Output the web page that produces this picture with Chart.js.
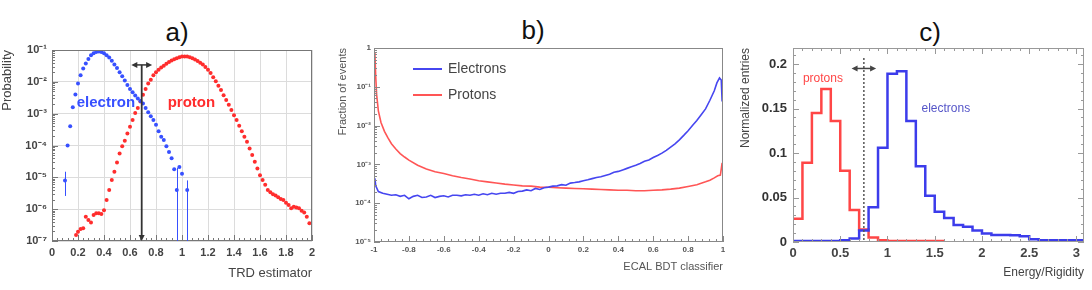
<!DOCTYPE html>
<html>
<head>
<meta charset="utf-8">
<script src="https://cdn.jsdelivr.net/npm/chart.js@4.4.1/dist/chart.umd.min.js"></script>
<style>
  body { margin:0; background:#fff; width:1092px; height:290px; overflow:hidden; position:relative;
         font-family:"Liberation Sans", Arial, sans-serif; }
  canvas { position:absolute; top:0; }
  .ttl { position:absolute; font-size:26px; color:#111; transform:translate(-50%,-50%); }
</style>
</head>
<body>
<div class="ttl" style="left:177px;top:32px">a)</div>
<div class="ttl" style="left:533px;top:30px">b)</div>
<div class="ttl" style="left:930px;top:32px">c)</div>
<canvas id="ca" width="330" height="290" style="left:0"></canvas>
<canvas id="cb" width="400" height="290" style="left:330px"></canvas>
<canvas id="cc" width="362" height="290" style="left:730px"></canvas>
<script>
// ---- a) TRD estimator ----
var elecA_x = [0.10,0.12,0.14,0.16,0.18,0.20,0.22,0.24,0.26,0.28,0.30,0.32,0.34,0.36,0.38,0.40,0.42,0.44,0.46,0.48,
  0.50,0.52,0.54,0.56,0.58,0.60,0.62,0.64,0.66,0.68,0.70,0.72,0.74,0.76,0.78,0.80,0.82,0.84,0.86,0.88,
  0.90,0.92,0.94,0.96,0.98,1.00,1.04];
var elecA_y = [7.9e-6,1.0e-4,4.0e-4,1.6e-3,4.0e-3,8.9e-3,1.6e-2,2.6e-2,3.8e-2,5.2e-2,6.8e-2,7.9e-2,8.7e-2,8.9e-2,8.7e-2,7.9e-2,6.9e-2,5.8e-2,4.6e-2,3.5e-2,
  2.7e-2,2.0e-2,1.5e-2,1.1e-2,7.9e-3,6.0e-3,4.7e-3,3.7e-3,3.0e-3,2.5e-3,2.1e-3,1.5e-3,1.1e-3,8.3e-4,6.3e-4,4.5e-4,2.8e-4,1.9e-4,1.5e-4,9.5e-5,
  6.3e-5,4.0e-5,1.8e-5,4.0e-6,2.1e-5,1.3e-5,4.0e-6];
var elecA_errX = [0.10, 0.96, 1.04];
var elecA_errLo = [2.6e-6, 1e-7, 1e-7];
var elecA_errHi = [1.5e-5, 2.0e-5, 8.0e-6];
var protA_x = [0.185,0.20,0.22,0.24,0.26,0.28,0.30,0.32,0.34,0.36,0.38,
  0.40,0.42,0.44,0.46,0.48,0.50,0.52,0.54,0.56,0.58,0.60,0.62,0.64,0.66,0.68,0.70,0.72,0.74,0.76,0.78,
  0.80,0.82,0.84,0.86,0.88,0.90,0.92,0.94,0.96,0.98,1.00,1.02,1.04,1.06,1.08,1.10,1.12,1.14,1.16,1.18,
  1.20,1.22,1.24,1.26,1.28,1.30,1.32,1.34,1.36,1.38,1.40,1.42,1.44,1.46,1.48,1.50,1.52,1.54,1.56,1.58,
  1.60,1.62,1.64,1.66,1.68,1.70,1.72,1.74,1.76,1.78,1.80,1.82,1.84,1.86,1.88,1.90,1.92,1.94,1.96,1.98];
var protA_y = [1.55e-7,1.95e-7,2.4e-7,2.5e-7,5.8e-7,4.6e-7,3.8e-7,6.6e-7,7.4e-7,7.4e-7,7.1e-7,
  9.3e-7,1.95e-6,4.0e-6,8.3e-6,1.5e-5,2.9e-5,5.6e-5,9.5e-5,1.4e-4,2.4e-4,3.9e-4,6.3e-4,1.05e-3,1.5e-3,2.4e-3,3.9e-3,6.0e-3,8.9e-3,1.17e-2,1.6e-2,
  2.0e-2,2.4e-2,2.8e-2,3.2e-2,3.7e-2,4.2e-2,4.7e-2,5.1e-2,5.5e-2,5.9e-2,6.2e-2,6.3e-2,6.2e-2,5.9e-2,5.5e-2,5.0e-2,4.5e-2,4.0e-2,3.5e-2,2.95e-2,
  2.4e-2,1.9e-2,1.4e-2,1.05e-2,7.6e-3,5.5e-3,3.8e-3,2.7e-3,1.9e-3,1.3e-3,8.9e-4,6.3e-4,4.2e-4,2.8e-4,1.9e-4,1.3e-4,8.1e-5,5.0e-5,3.1e-5,1.9e-5,
  1.17e-5,8.3e-6,5.8e-6,4.0e-6,3.4e-6,2.95e-6,2.7e-6,2.35e-6,2.1e-6,1.95e-6,1.6e-6,1.35e-6,1.07e-6,1.2e-6,1.12e-6,1.07e-6,8.9e-7,7.9e-7,5.8e-7,3.6e-7];
var ticksA_x = [0,0.2,0.4,0.6,0.8,1,1.2,1.4,1.6,1.8,2];
var ticksA_y = [1e-7,1e-6,1e-5,1e-4,1e-3,1e-2,1e-1];
var cutA = 0.69, arrowA = [0.61, 0.77, 0.034];

// ---- b) ECAL BDT classifier ----
var elecB_x = [-0.995,-0.99,-0.975,-0.95,-0.925,-0.9,-0.875,-0.85,-0.825,-0.8,-0.775,-0.75,-0.725,-0.7,-0.675,-0.65,-0.625,-0.6,-0.575,-0.55,
  -0.525,-0.5,-0.475,-0.45,-0.425,-0.4,-0.375,-0.35,-0.325,-0.3,-0.275,-0.25,-0.225,-0.2,-0.175,-0.15,-0.125,-0.1,-0.075,-0.05,
  -0.025,0,0.025,0.05,0.075,0.1,0.125,0.15,0.175,0.2,0.225,0.25,0.275,0.3,0.325,0.35,0.375,0.4,0.425,0.45,
  0.475,0.5,0.525,0.55,0.575,0.6,0.625,0.65,0.675,0.7,0.725,0.75,0.775,0.8,0.825,0.85,0.875,0.9,0.925,0.95,
  0.965,0.98,0.99,0.995];
var elecB_y = [4.4e-4,2.8e-4,2.0e-4,1.8e-4,1.7e-4,1.6e-4,1.65e-4,1.5e-4,1.6e-4,1.3e-4,1.5e-4,1.6e-4,1.4e-4,1.45e-4,1.6e-4,1.4e-4,1.5e-4,1.55e-4,1.45e-4,1.6e-4,
  1.6e-4,1.55e-4,1.65e-4,1.6e-4,1.7e-4,1.6e-4,1.75e-4,1.65e-4,1.8e-4,1.7e-4,1.8e-4,1.8e-4,1.9e-4,1.8e-4,2.0e-4,2.05e-4,2.2e-4,2.1e-4,2.4e-4,2.25e-4,
  2.5e-4,2.6e-4,2.75e-4,2.8e-4,3.0e-4,2.9e-4,3.3e-4,3.4e-4,3.55e-4,3.8e-4,4.0e-4,4.3e-4,4.6e-4,4.8e-4,5.2e-4,5.6e-4,6.3e-4,6.6e-4,7.2e-4,7.9e-4,
  8.7e-4,9.5e-4,1.05e-3,1.2e-3,1.3e-3,1.5e-3,1.7e-3,1.95e-3,2.3e-3,2.8e-3,3.4e-3,4.3e-3,5.6e-3,7.4e-3,1.0e-2,1.35e-2,1.9e-2,2.7e-2,4.5e-2,7.9e-2,
  0.126,0.17,0.15,0.042];
var protB_x = [-0.995,-0.99,-0.985,-0.975,-0.96,-0.94,-0.92,-0.9,-0.875,-0.85,-0.825,-0.8,
  -0.75,-0.7,-0.65,-0.6,-0.55,-0.5,-0.45,-0.4,-0.35,-0.3,-0.25,-0.2,-0.15,-0.1,-0.05,0,0.05,0.1,0.15,0.2,0.25,0.3,0.35,0.4,
  0.45,0.5,0.55,0.6,0.65,0.7,0.75,0.8,0.85,0.9,0.925,0.95,0.97,0.985,0.995];
var protB_y = [0.76,0.178,0.063,0.024,0.012,7.1e-3,4.8e-3,3.4e-3,2.5e-3,1.9e-3,1.55e-3,1.29e-3,
  9.5e-4,7.6e-4,6.5e-4,5.8e-4,5.1e-4,4.6e-4,4.2e-4,3.8e-4,3.55e-4,3.3e-4,3.1e-4,2.95e-4,2.8e-4,2.75e-4,2.6e-4,2.57e-4,2.5e-4,2.45e-4,2.4e-4,2.35e-4,2.3e-4,2.25e-4,2.2e-4,2.15e-4,
  2.15e-4,2.1e-4,2.1e-4,2.15e-4,2.2e-4,2.3e-4,2.45e-4,2.7e-4,3.0e-4,3.55e-4,3.9e-4,4.5e-4,5.1e-4,5.3e-4,1.1e-3];
var ticksB_x = [-1,-0.8,-0.6,-0.4,-0.2,0,0.2,0.4,0.6,0.8,1];
var ticksB_y = [1e-5,1e-4,1e-3,1e-2,1e-1,1];

// ---- c) Energy/Rigidity ----
var binLowC = [0,0.1,0.2,0.3,0.4,0.5,0.6,0.7,0.8,0.9,1.0,1.1,1.2,1.3,1.4,1.5,1.6,1.7,1.8,1.9,
  2.0,2.1,2.2,2.3,2.4,2.5,2.6,2.7,2.8,2.9,3.0];
var protC = [0.026,0.089,0.145,0.172,0.136,0.080,0.036,0.014,0.005,0.002,0.001,0.001,0.001,0.001,0.001,0.001];
var elecC = [0.001,0.001,0.001,0.001,0.001,0.002,0.004,0.013,0.039,0.106,0.189,0.192,0.136,0.085,0.052,0.034,0.027,0.019,0.017,0.013,
  0.0095,0.008,0.008,0.0075,0.0065,0.003,0.002,0.002,0.002,0.002,0.002];
var ticksC_x = [0,0.5,1,1.5,2,2.5,3];
var ticksC_y = [0,0.05,0.1,0.15,0.2];
var cutC = 0.75, arrowC = [0.62, 0.88, 0.195];

Chart.defaults.font.family = '"Liberation Sans", Arial, sans-serif';
Chart.defaults.animation = false;

var SUP = {'-':'\u207B','0':'\u2070','1':'\u00B9','2':'\u00B2','3':'\u00B3','4':'\u2074','5':'\u2075','6':'\u2076','7':'\u2077','8':'\u2078','9':'\u2079'};
function decade(v) {
  var e = Math.round(Math.log10(v));
  if (e === 0) return '1';
  return '10' + String(e).split('').map(function (c) { return SUP[c]; }).join('');
}
function fmt(v) { return String(Math.round(v * 1000) / 1000); }
function pts(xs, ys) { return xs.map(function (x, i) { return {x: x, y: ys[i]}; }); }
function hist(lows, vals) {
  var p = vals.map(function (v, i) { return {x: lows[i], y: v}; });
  p.push({x: lows[vals.length - 1] + 0.1, y: vals[vals.length - 1]});
  return p;
}
function logMinor(lo, hi) {
  var out = [];
  for (var d = lo; d < hi; d *= 10) for (var k = 2; k < 10; k++) out.push(d * k);
  return out;
}
function linMinor(lo, hi, step) {
  var out = [];
  for (var v = lo; v <= hi + 1e-9; v += step) out.push(v);
  return out;
}

// frame + inward ROOT-style tick marks
function frameTicks(opt) {
  return {
    id: 'frameTicks',
    afterDatasetsDraw: function (chart) {
      var ctx = chart.ctx, a = chart.chartArea, sx = chart.scales.x, sy = chart.scales.y;
      ctx.save();
      ctx.strokeStyle = opt.color; ctx.lineWidth = 1;
      ctx.beginPath();
      function tk(scale, vals, len) {
        vals.forEach(function (v) {
          var p = Math.round(scale.getPixelForValue(v)) + 0.5;
          if (scale.isHorizontal()) {
            if (p < a.left - 1 || p > a.right + 1) return;
            if (opt.sides.indexOf('bottom') >= 0) { ctx.moveTo(p, a.bottom); ctx.lineTo(p, a.bottom - len); }
            if (opt.sides.indexOf('top') >= 0) { ctx.moveTo(p, a.top); ctx.lineTo(p, a.top + len); }
          } else {
            if (p < a.top - 1 || p > a.bottom + 1) return;
            if (opt.sides.indexOf('left') >= 0) { ctx.moveTo(a.left, p); ctx.lineTo(a.left + len, p); }
            if (opt.sides.indexOf('right') >= 0) { ctx.moveTo(a.right, p); ctx.lineTo(a.right - len, p); }
          }
        });
      }
      tk(sx, sx.ticks.map(function (t) { return t.value; }), opt.major);
      tk(sy, sy.ticks.map(function (t) { return t.value; }), opt.major);
      tk(sx, opt.xMinor, opt.minor);
      tk(sy, opt.yMinor, opt.minor);
      ctx.stroke();
      ctx.strokeRect(a.left + 0.5, a.top + 0.5, a.right - a.left - 1, a.bottom - a.top - 1);
      ctx.restore();
    }
  };
}

function head(ctx, x, y, dx, dy, s) {
  var nx = -dy, ny = dx;
  ctx.beginPath();
  ctx.moveTo(x, y);
  ctx.lineTo(x - dx * s + nx * s * 0.5, y - dy * s + ny * s * 0.5);
  ctx.lineTo(x - dx * s - nx * s * 0.5, y - dy * s - ny * s * 0.5);
  ctx.closePath();
  ctx.fill();
}
function dblArrow(ctx, sx, sy, x0, x1, yv, col) {
  var y = sy.getPixelForValue(yv), p0 = sx.getPixelForValue(x0), p1 = sx.getPixelForValue(x1);
  ctx.strokeStyle = col; ctx.fillStyle = col; ctx.lineWidth = 1.5;
  ctx.beginPath(); ctx.moveTo(p0 + 3, y); ctx.lineTo(p1 - 3, y); ctx.stroke();
  head(ctx, p0, y, -1, 0, 6);
  head(ctx, p1, y, 1, 0, 6);
}

function axisX(min, max, ticks, title, font, tfont, color, tpad, pad, h) {
  return {
    type: 'linear', min: min, max: max,
    afterBuildTicks: function (s) { s.ticks = ticks.map(function (v) { return {value: v}; }); },
    afterFit: function (s) { s.height = h; },
    grid: {display: false, drawTicks: false},
    border: {display: false},
    ticks: {autoSkip: false, maxRotation: 0, padding: tpad, color: color, font: font, callback: fmt},
    title: {display: true, text: title, align: 'end', color: color, font: tfont, padding: {top: 0, bottom: pad}}
  };
}

// ---------- chart a ----------
var blueA = 'rgb(55,80,255)', redA = 'rgb(255,45,45)';
var xa = axisX(0, 2, ticksA_x, 'TRD estimator', {size: 11, weight: 'bold'}, {size: 13}, '#444', 5, 9, 49);
xa.grid = {display: true, color: '#dcdcdc', drawTicks: false};
new Chart(document.getElementById('ca'), {
  type: 'scatter',
  data: {datasets: [
    {label: 'electron', data: pts(elecA_x, elecA_y), pointRadius: 2, pointBorderWidth: 0, backgroundColor: blueA, borderColor: blueA},
    {label: 'proton', data: pts(protA_x, protA_y), pointRadius: 2, pointBorderWidth: 0, backgroundColor: redA, borderColor: redA}
  ]},
  options: {
    responsive: false, devicePixelRatio: 1,
    layout: {padding: {top: 50, right: 18, bottom: 0, left: 0}},
    plugins: {legend: {display: false}, tooltip: {enabled: false}},
    scales: {
      x: xa,
      y: {
        type: 'logarithmic', min: 1e-7, max: 1e-1,
        afterBuildTicks: function (s) { s.ticks = ticksA_y.map(function (v) { return {value: v}; }); },
        afterFit: function (s) { s.width = 52; },
        grid: {color: '#dcdcdc', drawTicks: false},
        border: {display: false},
        ticks: {padding: 5, color: '#444', font: {size: 11, weight: 'bold'}, callback: decade},
        title: {display: true, text: 'Probability', align: 'end', color: '#444', font: {size: 13}, padding: {top: 0, bottom: 0}}
      }
    }
  },
  plugins: [
    frameTicks({color: '#777', sides: ['bottom', 'left'], major: 6, minor: 3,
      xMinor: linMinor(0, 2, 0.04), yMinor: logMinor(1e-7, 1e-1)}),
    {id: 'annA', afterDatasetsDraw: function (chart) {
      var ctx = chart.ctx, sx = chart.scales.x, sy = chart.scales.y;
      ctx.save();
      // error bars
      ctx.strokeStyle = blueA; ctx.lineWidth = 1;
      ctx.beginPath();
      elecA_errX.forEach(function (x, i) {
        var p = Math.round(sx.getPixelForValue(x)) + 0.5;
        ctx.moveTo(p, sy.getPixelForValue(elecA_errLo[i]));
        ctx.lineTo(p, sy.getPixelForValue(elecA_errHi[i]));
      });
      ctx.stroke();
      // cut line
      var cx = sx.getPixelForValue(cutA), top = sy.getPixelForValue(arrowA[2]), bot = sy.getPixelForValue(1e-7);
      ctx.strokeStyle = '#333'; ctx.fillStyle = '#333'; ctx.lineWidth = 1.8;
      ctx.beginPath(); ctx.moveTo(cx, top); ctx.lineTo(cx, bot - 5); ctx.stroke();
      head(ctx, cx, bot, 0, 1, 6);
      dblArrow(ctx, sx, sy, arrowA[0], arrowA[1], arrowA[2], '#333');
      // labels
      ctx.font = 'bold 15px "Liberation Sans", Arial, sans-serif';
      ctx.textBaseline = 'middle';
      ctx.fillStyle = blueA; ctx.fillText('electron', sx.getPixelForValue(0.19), sy.getPixelForValue(2.2e-3));
      ctx.fillStyle = redA; ctx.fillText('proton', sx.getPixelForValue(0.89), sy.getPixelForValue(2.2e-3));
      ctx.restore();
    }}
  ]
});

// ---------- chart b ----------
var blueB = 'rgb(70,70,240)', redB = 'rgb(255,85,85)';
new Chart(document.getElementById('cb'), {
  type: 'scatter',
  data: {datasets: [
    {label: 'Electrons', data: pts(elecB_x, elecB_y), showLine: true, pointRadius: 0, borderWidth: 1.6, borderColor: blueB},
    {label: 'Protons', data: pts(protB_x, protB_y), showLine: true, pointRadius: 0, borderWidth: 1.6, borderColor: redB}
  ]},
  options: {
    responsive: false, devicePixelRatio: 1,
    layout: {padding: {top: 48, right: 7, bottom: 0, left: 0}},
    plugins: {legend: {display: false}, tooltip: {enabled: false}},
    scales: {
      x: axisX(-1, 1, ticksB_x, 'ECAL BDT classifier', {size: 8, weight: 'bold'}, {size: 11}, '#555', 3, 16, 48),
      y: {
        type: 'logarithmic', min: 1e-5, max: 1,
        afterBuildTicks: function (s) { s.ticks = ticksB_y.map(function (v) { return {value: v}; }); },
        afterFit: function (s) { s.width = 44; },
        grid: {display: false, drawTicks: false},
        border: {display: false},
        ticks: {padding: 3, color: '#555', font: {size: 8, weight: 'bold'}, callback: decade},
        title: {display: true, text: 'Fraction of events', align: 'end', color: '#555', font: {size: 11}, padding: {top: 6, bottom: 0}}
      }
    }
  },
  plugins: [
    frameTicks({color: '#888', sides: ['bottom', 'left'], major: 6, minor: 3,
      xMinor: linMinor(-1, 1, 0.04), yMinor: logMinor(1e-5, 1)}),
    {id: 'legB', afterDatasetsDraw: function (chart) {
      var ctx = chart.ctx, a = chart.chartArea;
      ctx.save();
      ctx.font = '14px "Liberation Sans", Arial, sans-serif';
      ctx.textBaseline = 'middle';
      chart.data.datasets.forEach(function (ds, i) {
        var y = a.top + 21 + i * 26;
        ctx.strokeStyle = ds.borderColor; ctx.lineWidth = 2;
        ctx.beginPath(); ctx.moveTo(a.left + 39, y); ctx.lineTo(a.left + 68, y); ctx.stroke();
        ctx.fillStyle = '#444'; ctx.fillText(ds.label, a.left + 74, y);
      });
      ctx.restore();
    }}
  ]
});

// ---------- chart c ----------
var blueC = 'rgb(60,60,235)', redC = 'rgb(255,70,70)';
new Chart(document.getElementById('cc'), {
  type: 'scatter',
  data: {datasets: [
    {label: 'electrons', data: hist(binLowC, elecC), showLine: true, stepped: true, pointRadius: 0, borderWidth: 2.5, borderColor: blueC},
    {label: 'protons', data: hist(binLowC, protC), showLine: true, stepped: true, pointRadius: 0, borderWidth: 2.5, borderColor: redC}
  ]},
  options: {
    responsive: false, devicePixelRatio: 1,
    layout: {padding: {top: 48, right: 8, bottom: 0, left: 0}},
    plugins: {legend: {display: false}, tooltip: {enabled: false}},
    scales: {
      x: axisX(0, 3.08, ticksC_x, 'Energy/Rigidity', {size: 13, weight: 'bold'}, {size: 12}, '#444', 4, 10, 48),
      y: {
        type: 'linear', min: 0, max: 0.218,
        afterBuildTicks: function (s) { s.ticks = ticksC_y.map(function (v) { return {value: v}; }); },
        afterFit: function (s) { s.width = 63; },
        grid: {display: false, drawTicks: false},
        border: {display: false},
        ticks: {padding: 6, color: '#333', font: {size: 13, weight: 'bold'}, callback: fmt},
        title: {display: true, text: 'Normalized entries', align: 'end', color: '#444', font: {size: 12}, padding: {top: 8, bottom: 0}}
      }
    }
  },
  plugins: [
    frameTicks({color: '#999', sides: ['bottom', 'left', 'top', 'right'], major: 6, minor: 3,
      xMinor: linMinor(0, 3.08, 0.1), yMinor: linMinor(0, 0.218, 0.01)}),
    {id: 'annC', afterDatasetsDraw: function (chart) {
      var ctx = chart.ctx, sx = chart.scales.x, sy = chart.scales.y, a = chart.chartArea;
      ctx.save();
      var cx = sx.getPixelForValue(cutC);
      ctx.strokeStyle = '#555'; ctx.lineWidth = 1.5; ctx.setLineDash([2, 2]);
      ctx.beginPath(); ctx.moveTo(cx, a.top + 10); ctx.lineTo(cx, a.bottom); ctx.stroke();
      ctx.setLineDash([]);
      dblArrow(ctx, sx, sy, arrowC[0], arrowC[1], arrowC[2], '#444');
      ctx.font = '12px "Liberation Sans", Arial, sans-serif';
      ctx.textBaseline = 'middle';
      ctx.fillStyle = redC; ctx.fillText('protons', sx.getPixelForValue(0.105), sy.getPixelForValue(0.184));
      ctx.fillStyle = 'rgb(85,85,200)'; ctx.fillText('electrons', sx.getPixelForValue(1.36), sy.getPixelForValue(0.150));
      ctx.restore();
    }}
  ]
});
</script>
</body>
</html>
